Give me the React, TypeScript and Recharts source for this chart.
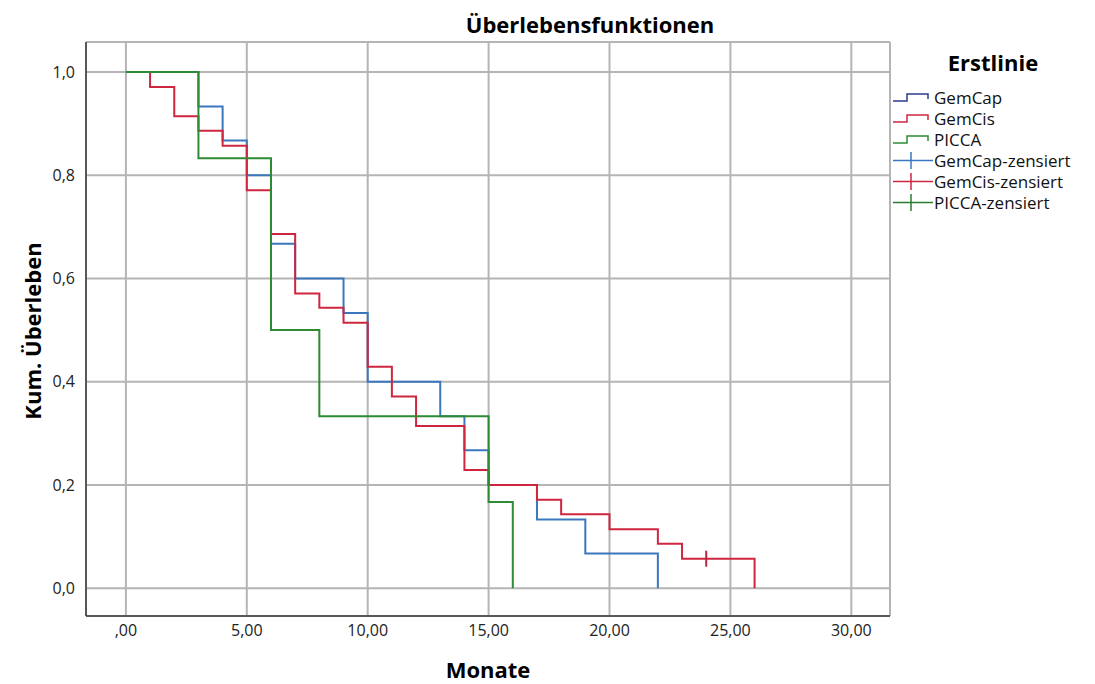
import { ComposedChart, Line, Scatter, XAxis, YAxis, CartesianGrid } from 'recharts'

// Kaplan-Meier estimates (months, cumulative survival)
const gemCapTimes = [0, 3, 4, 5, 6, 7, 9, 10, 13, 14, 15, 17, 19, 22]
const gemCapSurv = [1, 0.933, 0.867, 0.8, 0.667, 0.6, 0.533, 0.4, 0.333, 0.267, 0.2, 0.133, 0.067, 0]

const gemCisTimes = [0, 1, 2, 3, 4, 5, 6, 7, 8, 9, 10, 11, 12, 14, 15, 17, 18, 20, 22, 23, 26]
const gemCisSurv = [1, 0.971, 0.914, 0.886, 0.857, 0.771, 0.686, 0.571, 0.543, 0.514, 0.429, 0.371, 0.314, 0.229, 0.2, 0.171, 0.143, 0.114, 0.086, 0.057, 0]

const piccaTimes = [0, 3, 6, 8, 15, 16]
const piccaSurv = [1, 0.833, 0.5, 0.333, 0.167, 0]

const gemCisCensTimes = [24]
const gemCisCensSurv = [0.057]

const xTicks = [0, 5, 10, 15, 20, 25, 30]
const yTicks = [0, 0.2, 0.4, 0.6, 0.8, 1.0]

const legendItems = [
  { label: 'GemCap', color: '#2b3c8e', kind: 'step' },
  { label: 'GemCis', color: '#cf2640', kind: 'step' },
  { label: 'PICCA', color: '#2e8a34', kind: 'step' },
  { label: 'GemCap-zensiert', color: '#3a78be', kind: 'cens' },
  { label: 'GemCis-zensiert', color: '#cf2640', kind: 'cens' },
  { label: 'PICCA-zensiert', color: '#2e7a30', kind: 'cens' },
]

const toPoints = (times: number[], surv: number[]) => times.map((t, i) => ({ t, s: surv[i] }))

const gemCap = toPoints(gemCapTimes, gemCapSurv)
const gemCis = toPoints(gemCisTimes, gemCisSurv)
const picca = toPoints(piccaTimes, piccaSurv)
const gemCisCens = toPoints(gemCisCensTimes, gemCisCensSurv)

const font = '"Open Sans", "DejaVu Sans", sans-serif'

const fmtX = (v: number) => (v === 0 ? ',00' : v.toFixed(2).replace('.', ','))
const fmtY = (v: number) => v.toFixed(1).replace('.', ',')

const CensorMark = (props: any) => {
  const { cx, cy } = props
  return <line x1={cx} x2={cx} y1={cy - 8} y2={cy + 8} stroke="#b8253c" strokeWidth={2} />
}

export default function App() {
  return (
    <div style={{ position: 'absolute', left: 0, top: 0, width: 1095, height: 684, background: '#fff', fontFamily: font, overflow: 'hidden' }}>
      <div style={{ position: 'absolute', left: 0, width: 1180, top: 11, lineHeight: '26px', textAlign: 'center', fontSize: 22, fontWeight: 700 }}>
        Überlebensfunktionen
      </div>

      <ComposedChart width={1095} height={684} margin={{ top: 42, right: 205, bottom: 38, left: 26 }}>
        <CartesianGrid stroke="#b5b5b5" strokeWidth={2} />
        <XAxis
          dataKey="t"
          type="number"
          domain={[-1.65, 31.6]}
          ticks={xTicks}
          tickFormatter={fmtX}
          allowDataOverflow
          tickSize={0}
          tickMargin={9}
          axisLine={{ stroke: '#3a3a3a', strokeWidth: 1.5 }}
          tick={{ fontSize: 16, fill: '#222', fontFamily: font }}
        />
        <YAxis
          type="number"
          domain={[-0.054, 1.058]}
          ticks={yTicks}
          tickFormatter={fmtY}
          allowDataOverflow
          width={60}
          tickSize={0}
          tickMargin={11}
          axisLine={{ stroke: '#3a3a3a', strokeWidth: 1.5 }}
          tick={{ fontSize: 16, fill: '#222', fontFamily: font }}
        />
        <Line data={gemCap} dataKey="s" type="stepAfter" stroke="#3a78be" strokeWidth={2} dot={false} isAnimationActive={false} />
        <Line data={gemCis} dataKey="s" type="stepAfter" stroke="#cf2640" strokeWidth={2} dot={false} isAnimationActive={false} />
        <Line data={picca} dataKey="s" type="stepAfter" stroke="#2e8a34" strokeWidth={2} dot={false} isAnimationActive={false} />
        <Scatter data={gemCisCens} dataKey="s" shape={CensorMark} isAnimationActive={false} />
      </ComposedChart>

      <div style={{ position: 'absolute', left: 0, width: 976, top: 657, lineHeight: '24px', textAlign: 'center', fontSize: 22, fontWeight: 700 }}>
        Monate
      </div>
      <div
        style={{
          position: 'absolute',
          left: 32,
          top: 331,
          transform: 'translate(-50%, -50%) rotate(-90deg)',
          whiteSpace: 'nowrap',
          lineHeight: '26px',
          fontSize: 22,
          fontWeight: 700,
        }}
      >
        Kum. Überleben
      </div>

      <div style={{ position: 'absolute', left: 893, top: 49, width: 200, lineHeight: '26px', textAlign: 'center', fontSize: 22, fontWeight: 700 }}>
        Erstlinie
      </div>
      {legendItems.map((item, i) => {
        const top = 87 + i * 21
        return (
          <div key={item.label} style={{ position: 'absolute', left: 890, top, height: 21, display: 'flex', alignItems: 'center' }}>
            <svg width={44} height={21}>
              {item.kind === 'step' ? (
                <path d="M3,14 H17 V7 H38 V12" fill="none" stroke={item.color} strokeWidth={1.5} />
              ) : (
                <g stroke={item.color} strokeWidth={1.5}>
                  <line x1={3} x2={43} y1={10.5} y2={10.5} />
                  <line x1={21} x2={21} y1={2} y2={19} />
                </g>
              )}
            </svg>
            <span style={{ fontSize: 17, lineHeight: '20px', whiteSpace: 'nowrap', color: '#111' }}>{item.label}</span>
          </div>
        )
      })}
    </div>
  )
}
